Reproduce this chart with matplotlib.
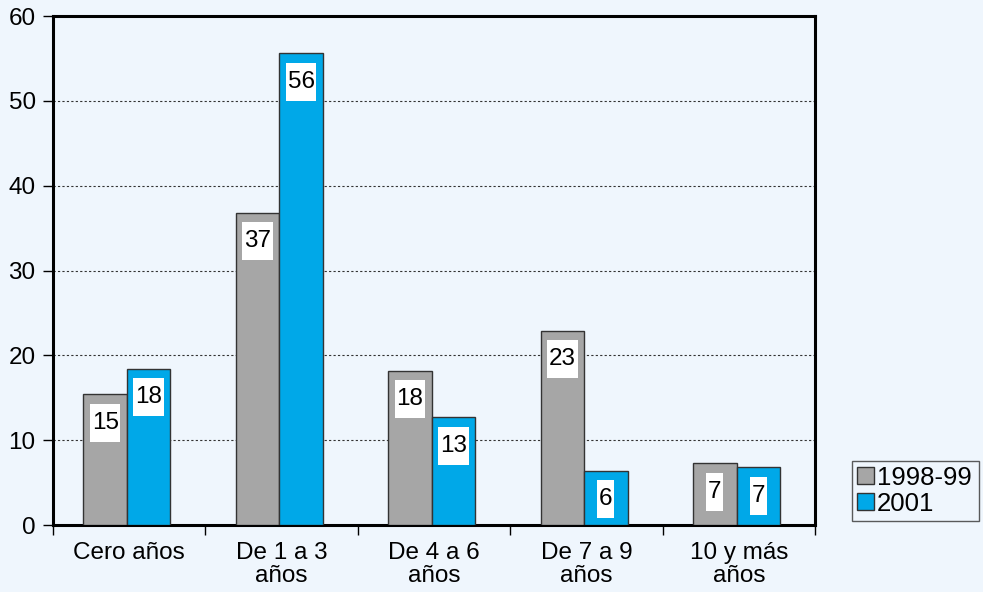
import matplotlib
matplotlib.use("Agg")
import matplotlib.pyplot as plt
import numpy as np
from matplotlib.path import Path

plt.rcParams['font.family'] = ['Liberation Sans', 'DejaVu Sans']

categories = ["Cero años", "De 1 a 3\naños", "De 4 a 6\naños", "De 7 a 9\naños", "10 y más\naños"]
series_names = ["1998-99", "2001"]
vals_1998 = [15.4, 36.8, 18.2, 22.9, 7.3]
vals_2001 = [18.4, 55.6, 12.7, 6.4, 6.8]
labels_1998 = ["15", "37", "18", "23", "7"]
labels_2001 = ["18", "56", "13", "6", "7"]
yticks = [0, 10, 20, 30, 40, 50, 60]

bg = "#eff6fd"
gray = "#a6a6a6"
blue = "#00a8e8"
FS = 17.5

fig = plt.figure(figsize=(9.83, 5.92), dpi=100, facecolor=bg)
ax = fig.add_axes([53/983, 1-525/592, (815-53)/983, (525-16)/592])
ax.set_facecolor(bg)

x = np.arange(len(categories))
w = 0.285
shift = -0.015
b1 = ax.bar(x + shift - w/2, vals_1998, w, color=gray, edgecolor="#333333", linewidth=1, label=series_names[0], zorder=3)
b2 = ax.bar(x + shift + w/2, vals_2001, w, color=blue, edgecolor="#333333", linewidth=1, label=series_names[1], zorder=3)

def tallbox(x0, y0, width, height, mutation_size):
    padx = 0.07 * mutation_size
    pady = 0.33 * mutation_size
    x0 -= padx; x1 = x0 + width + 2*padx
    y0 -= pady; y1 = y0 + height + 2*pady
    return Path([(x0, y0), (x1, y0), (x1, y1), (x0, y1), (x0, y0)], closed=True)

for xs, vs, ls in [(x + shift - w/2, vals_1998, labels_1998), (x + shift + w/2, vals_2001, labels_2001)]:
    for xi, v, l in zip(xs, vs, ls):
        ax.annotate(l, (xi, v), xytext=(0, -20.5), textcoords="offset points",
                    ha="center", va="center", fontsize=FS, color="black", zorder=5,
                    bbox=dict(boxstyle=tallbox, facecolor="white", edgecolor="none"))

ax.set_xlim(-0.5, len(categories) - 0.5)
ax.set_ylim(0, 60)
ax.set_yticks(yticks)
ax.set_yticklabels([str(t) for t in yticks], fontsize=FS)
ax.tick_params(axis="y", length=7.5, width=1, pad=5, direction="out")

ax.set_xticks(x)
ax.set_xticklabels(categories, fontsize=FS, linespacing=1.05)
ax.tick_params(axis="x", which="major", length=0, pad=12)
ax.set_xticks(np.arange(-0.5, len(categories)), minor=True)
ax.tick_params(axis="x", which="minor", length=7, width=1, direction="out")

for yv in yticks[1:-1]:
    ax.axhline(yv, color="#333333", linestyle=(0, (2, 2)), linewidth=0.8, zorder=1)

for s in ax.spines.values():
    s.set_linewidth(2.2)
    s.set_color("black")

leg = ax.legend(loc="lower left", bbox_to_anchor=(852/983, 1-521/592, (979-852)/983, (521-453)/592),
                bbox_transform=fig.transFigure, fontsize=18.5, frameon=True, fancybox=False,
                handlelength=0.65, handleheight=0.65, handletextpad=0.12, borderpad=0.2,
                labelspacing=0.08, borderaxespad=0, mode="expand")
leg.get_frame().set_edgecolor("#333333")
leg.get_frame().set_linewidth(1)
leg.get_frame().set_facecolor(bg)

fig.savefig("out.png", dpi=100, facecolor=bg)
